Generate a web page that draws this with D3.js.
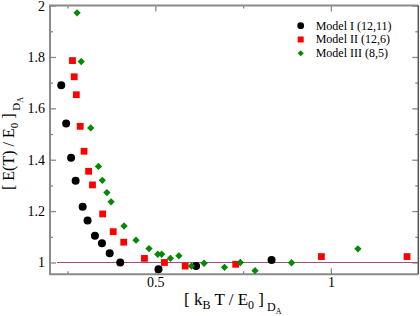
<!DOCTYPE html>
<html>
<head>
<meta charset="utf-8">
<script src="https://cdn.jsdelivr.net/npm/d3@7"></script>
<style>
  body { margin: 0; background: #fff; }
  svg { display: block; }
  text { font-family: "Liberation Serif", "Times New Roman", serif; fill: #000; }
</style>
</head>
<body>
<svg></svg>
<script>
// data
let model1X = [0.232, 0.246, 0.260, 0.273, 0.293, 0.307, 0.328, 0.348, 0.370, 0.400, 0.509, 0.616, 0.831]
let model1Y = [1.690, 1.541, 1.408, 1.318, 1.217, 1.163, 1.104, 1.075, 1.036, 1.000, 0.974, 0.986, 1.010]

let model2X = [0.264, 0.269, 0.275, 0.286, 0.297, 0.310, 0.321, 0.350, 0.380, 0.410, 0.469, 0.526, 0.585, 0.729, 0.973, 1.217]
let model2Y = [1.786, 1.723, 1.653, 1.530, 1.433, 1.355, 1.302, 1.189, 1.120, 1.079, 1.016, 1.000, 0.986, 0.993, 1.023, 1.023]

let model3X = [0.277, 0.289, 0.316, 0.338, 0.349, 0.362, 0.374, 0.411, 0.445, 0.482, 0.507, 0.518, 0.543, 0.567, 0.603, 0.639, 0.697, 0.742, 0.784, 0.888, 1.077]
let model3Y = [1.972, 1.782, 1.524, 1.374, 1.320, 1.272, 1.236, 1.142, 1.087, 1.054, 1.032, 1.032, 1.016, 1.026, 0.986, 0.997, 0.981, 1.000, 0.968, 0.999, 1.053]

let seriesNames = ['Model I (12,11)', 'Model II (12,6)', 'Model III (8,5)']

let xMajorTicks = [0.5, 1]
let xMinorTicks = [0.25, 0.75]
let yMajorTicks = [1, 1.2, 1.4, 1.6, 1.8, 2]
let yMinorTicks = [1.1, 1.3, 1.5, 1.7, 1.9]

let refLineX = [0.22, 1.25]
let refLineY = 1

let width = 420
let height = 316
let plotLeft = 50
let plotRight = 418.3
let plotTop = 5.6
let plotBottom = 274.3

let svg = d3.select('svg').attr('width', width).attr('height', height)

let xScale = d3.scaleLinear().domain([0.2, 1.249]).range([plotLeft, plotRight])
let yScale = d3.scaleLinear().domain([0.954, 2]).range([plotBottom, plotTop])

let frameColor = '#8a8a8a'
let serif = '"Liberation Serif", "Times New Roman", serif'

// axes, ticks pointing inwards
let fmt = d => String(+d.toFixed(2))

let axisStyle = (g) => {
    g.attr('font-family', serif)
    g.select('.domain').remove()
    g.selectAll('line').attr('stroke', frameColor).attr('stroke-width', 1.3)
    g.selectAll('text').style('font-size', '14px').style('font-family', serif)
}

svg.append('g')
    .attr('transform', 'translate(0,' + plotBottom + ')')
    .call(d3.axisBottom(xScale).tickValues(xMajorTicks).tickSize(-6).tickPadding(3).tickFormat(fmt))
    .call(axisStyle)
svg.append('g')
    .attr('transform', 'translate(0,' + plotBottom + ')')
    .call(d3.axisBottom(xScale).tickValues(xMinorTicks).tickSize(-3).tickFormat(''))
    .call(axisStyle)
svg.append('g')
    .attr('transform', 'translate(0,' + plotTop + ')')
    .call(d3.axisTop(xScale).tickValues(xMajorTicks).tickSize(-6).tickFormat(''))
    .call(axisStyle)
svg.append('g')
    .attr('transform', 'translate(0,' + plotTop + ')')
    .call(d3.axisTop(xScale).tickValues(xMinorTicks).tickSize(-3).tickFormat(''))
    .call(axisStyle)

svg.append('g')
    .attr('transform', 'translate(' + plotLeft + ',0)')
    .call(d3.axisLeft(yScale).tickValues(yMajorTicks).tickSize(-6).tickPadding(5).tickFormat(fmt))
    .call(axisStyle)
svg.append('g')
    .attr('transform', 'translate(' + plotLeft + ',0)')
    .call(d3.axisLeft(yScale).tickValues(yMinorTicks).tickSize(-3).tickFormat(''))
    .call(axisStyle)
svg.append('g')
    .attr('transform', 'translate(' + plotRight + ',0)')
    .call(d3.axisRight(yScale).tickValues(yMajorTicks).tickSize(-6).tickFormat(''))
    .call(axisStyle)
svg.append('g')
    .attr('transform', 'translate(' + plotRight + ',0)')
    .call(d3.axisRight(yScale).tickValues(yMinorTicks).tickSize(-3).tickFormat(''))
    .call(axisStyle)

// frame
svg.append('path')
    .attr('d', 'M' + plotRight + ',' + plotTop + 'H' + plotLeft + 'V' + plotBottom + 'H' + plotRight)
    .attr('fill', 'none')
    .attr('stroke', frameColor)
    .attr('stroke-width', 2)
svg.append('line')
    .attr('x1', plotRight).attr('x2', plotRight)
    .attr('y1', plotTop).attr('y2', plotBottom)
    .attr('stroke', '#555')
    .attr('stroke-width', 1.5)

// reference line at 1
svg.append('line')
    .attr('x1', xScale(refLineX[0])).attr('x2', xScale(refLineX[1]))
    .attr('y1', yScale(refLineY)).attr('y2', yScale(refLineY))
    .attr('stroke', '#9a4f85')
    .attr('stroke-width', 1.2)

// markers
let toPoints = (xs, ys) => xs.map((x, i) => [x, ys[i]])

svg.append('g').selectAll('circle')
    .data(toPoints(model1X, model1Y))
    .enter()
    .append('circle')
    .attr('cx', d => xScale(d[0]))
    .attr('cy', d => yScale(d[1]))
    .attr('r', 4)
    .attr('fill', '#000')

svg.append('g').selectAll('rect')
    .data(toPoints(model2X, model2Y))
    .enter()
    .append('rect')
    .attr('x', d => xScale(d[0]) - 3.4)
    .attr('y', d => yScale(d[1]) - 3.4)
    .attr('width', 6.8)
    .attr('height', 6.8)
    .attr('fill', '#ff0000')

let diamond = d3.symbol().type(d3.symbolDiamond2).size(34)

svg.append('g').selectAll('path')
    .data(toPoints(model3X, model3Y))
    .enter()
    .append('path')
    .attr('d', diamond)
    .attr('transform', d => 'translate(' + xScale(d[0]) + ',' + yScale(d[1]) + ')')
    .attr('fill', '#008a00')

// legend
let legend = svg.append('g').attr('transform', 'translate(300.7,25.7)')
let rowGap = 13.8
legend.append('circle').attr('cx', 0).attr('cy', 0).attr('r', 3.4).attr('fill', '#000')
legend.append('rect').attr('x', -3).attr('y', rowGap - 3).attr('width', 6).attr('height', 6).attr('fill', '#ff0000')
legend.append('path').attr('d', d3.symbol().type(d3.symbolDiamond2).size(24))
    .attr('transform', 'translate(0,' + (2 * rowGap) + ')').attr('fill', '#008a00')
legend.selectAll('text')
    .data(seriesNames)
    .enter()
    .append('text')
    .attr('x', 15)
    .attr('y', (d, i) => i * rowGap + 4)
    .style('font-family', serif)
    .style('font-size', '12px')
    .text(d => d)

// x axis title
let xt = svg.append('text')
    .attr('x', 184)
    .attr('y', 305)
    .style('font-family', serif)
    .style('font-size', '17px')
xt.append('tspan').text('[ k')
xt.append('tspan').attr('dy', 4).style('font-size', '12px').text('B')
xt.append('tspan').attr('dy', -4).text(' T / E')
xt.append('tspan').attr('dy', 4).style('font-size', '12px').text('0')
xt.append('tspan').attr('dy', -4).text(' ]')
xt.append('tspan').attr('dy', 6).style('font-size', '12px').text(' D')
xt.append('tspan').attr('dy', 3).style('font-size', '8px').text('A')

// y axis title
let yt = svg.append('text')
    .attr('transform', 'translate(14,190) rotate(-90)')
    .style('font-family', serif)
    .style('font-size', '16px')
yt.append('tspan').text('[ E(T) / E')
yt.append('tspan').attr('dy', 4).style('font-size', '11px').text('0')
yt.append('tspan').attr('dy', -4).text(' ]')
yt.append('tspan').attr('dy', 6).style('font-size', '11px').text(' D')
yt.append('tspan').attr('dy', 3).style('font-size', '8px').text('A')
</script>
</body>
</html>
